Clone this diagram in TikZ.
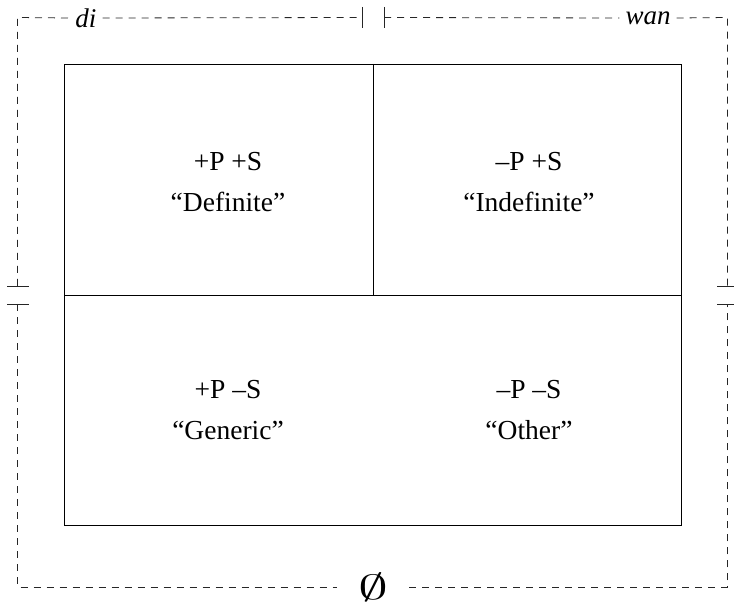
\documentclass[tikz,border=0pt]{standalone}
\usepackage{fontspec}
\usepackage{graphicx}
\setmainfont{Liberation Serif}
\begin{document}
\begin{tikzpicture}[x=1pt,y=-1pt,
  frame/.style={draw=black!85, line width=0.8pt, dash pattern=on 7pt off 6pt},
  tickline/.style={draw=black!85, line width=0.9pt},
  cellbox/.style={draw=black, line width=0.9pt},
  lbl/.style={align=center, font=\fontsize{27.5}{41}\selectfont, inner sep=0pt},
  edge/.style={fill=white, inner xsep=6pt, inner ysep=2pt, font=\fontsize{27}{30}\selectfont\itshape}]
\useasboundingbox (0,0) rectangle (734,604);
% frame corners
\coordinate (TL) at (17.5,17.5);
\coordinate (TR) at (727.5,17.5);
\coordinate (BL) at (17.5,587);
\coordinate (BR) at (727.5,587);
\coordinate (gapL) at (362,17.5);
\coordinate (gapR) at (384,17.5);
\coordinate (lU) at (17.5,286);
\coordinate (lD) at (17.5,304);
\coordinate (rU) at (727.5,286);
\coordinate (rD) at (727.5,304);
% labels on frame
\node[edge] (di) at (86,18) {di};
\node[edge] (wan) at (648,18) {wan};
\node[fill=white, inner xsep=21pt, inner ysep=0pt, font=\normalsize] (empty) at (373,587) {\scalebox{6}[3.5]{$\emptyset$}};
% dashed frame
\draw[frame] (lU) -- (TL) -- (di.west);
\draw[frame] (di.east) -- (gapL);
\draw[frame] (gapR) -- (wan.west);
\draw[frame] (wan.east) -- (TR) -- (rU);
\draw[frame] (lD) -- (BL) -- (empty.west);
\draw[frame] (empty.east) -- (BR) -- (rD);
% ticks
\draw[tickline] (gapL) +(0,-10.5) -- +(0,11);
\draw[tickline] (gapR) +(0,-10.5) -- +(0,11);
\draw[tickline] (lU) +(-10.5,0) -- +(11.5,0);
\draw[tickline] (lD) +(-10.5,0) -- +(11.5,0);
\draw[tickline] (rU) +(-10.5,0) -- +(11.5,0);
\draw[tickline] (rD) +(-10.5,0) -- +(11.5,0);
% inner boxes
\coordinate (iTL) at (64,64);
\coordinate (iBR) at (681,525);
\coordinate (mT) at (373,64);
\coordinate (mM) at (373,295);
\coordinate (hL) at (64,295);
\coordinate (hR) at (681,295);
\draw[cellbox] (iTL) rectangle (iBR);
\draw[cellbox] (mT) -- (mM);
\draw[cellbox] (hL) -- (hR);
% cell texts
\node[lbl] (def) at (228,182) {+P +S\\“Definite”};
\node[lbl] (indef) at (529,182) {–P +S\\“Indefinite”};
\node[lbl] (gen) at (228,410) {+P –S\\“Generic”};
\node[lbl] (oth) at (529,410) {–P –S\\“Other”};
\end{tikzpicture}
\end{document}
